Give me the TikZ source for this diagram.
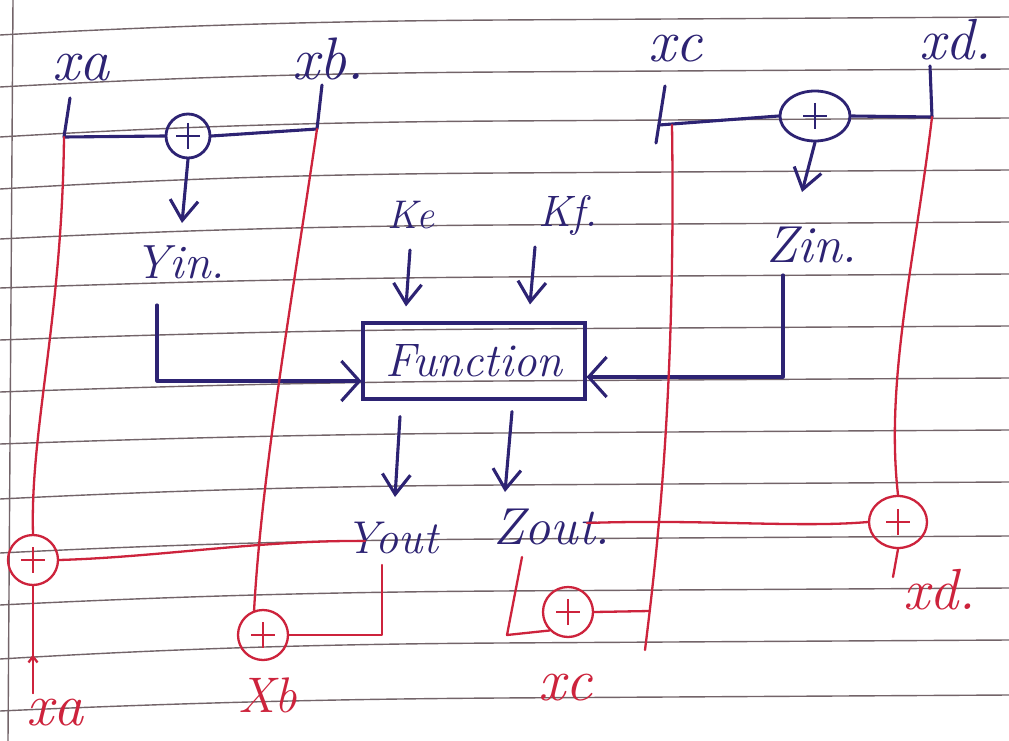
\documentclass[tikz,border=0pt]{standalone}
\usetikzlibrary{arrows.meta,shapes.geometric,calc}
\definecolor{inkb}{RGB}{45,35,115}
\definecolor{inkr}{RGB}{205,35,60}
\definecolor{paperline}{RGB}{115,100,105}
\begin{document}
\begin{tikzpicture}[x=1pt,y=-1pt,
  paper/.style={draw=paperline,line width=1.4pt},
  bline/.style={draw=inkb,line width=3.1pt,line cap=round,line join=round},
  rline/.style={draw=inkr,line width=2.3pt,line cap=round,line join=round},
  barrow/.style={bline,-{Straight Barb[length=20pt,width=28pt]}},
  bigtip/.style={-{Straight Barb[length=18pt,width=40pt]}},
  lbl/.style={text=inkb,font=\fontsize{#1}{#1}\selectfont\itshape,inner sep=3pt},
  lbl/.default=48,
  rlbl/.style={text=inkr,font=\fontsize{#1}{#1}\selectfont\itshape,inner sep=3pt},
  rlbl/.default=58,
  plus/.style={path picture={\draw[#1,line width=2.6pt]
     ([xshift=-12pt]path picture bounding box.center) -- ([xshift=12pt]path picture bounding box.center)
     ([yshift=13pt]path picture bounding box.center) -- ([yshift=-13pt]path picture bounding box.center);}},
  sumb/.style={circle,draw=inkb,line width=2.8pt,minimum size=44pt,inner sep=0pt,plus=inkb},
  sume/.style={ellipse,draw=inkb,line width=2.8pt,minimum width=70pt,minimum height=50pt,inner sep=0pt,plus=inkb},
  rsum/.style={circle,draw=inkr,line width=2.3pt,minimum size=50pt,inner sep=0pt,plus=inkr},
  rsume/.style={ellipse,draw=inkr,line width=2.3pt,minimum width=58pt,minimum height=52pt,inner sep=0pt,plus=inkr},
  fbox/.style={draw=inkb,line width=3.1pt,minimum width=222pt,minimum height=76pt,text=inkb,
     font=\fontsize{47}{50}\selectfont\itshape}
]
\useasboundingbox (0,0) rectangle (1009,741);
\fill[white] (0,0) rectangle (1009,741);
% ruled paper
\foreach \l/\r in {35/17,87/69,137/118,189/170,239/222,288/274,340/326,392/378,444/430,499/482,553/536,605/588,659/640,711/695}{
  \draw[paper] (0,\l) .. controls (200,{\r+7}) and (350,{\r+4}) .. (500,{\r+3}) -- (1009,\r);
}
\draw[paper] (13,0) -- (8,741);

% labels
\node[lbl=60] (xa) at (81,68) {xa};
\node[lbl=60] (xb) at (328,59) {xb.};
\node[lbl=60] (xc) at (675,49) {xc};
\node[lbl=58] (xd) at (956,40) {xd.};
\node[lbl=48] (yin) at (180,262) {Yin.};
\node[lbl=40] (ke) at (411,215) {Ke};
\node[lbl=44] (kf) at (568,215) {Kf.};
\node[lbl=52] (zin) at (812,245) {Zin.};
\node[fbox] (func) at (474,361) {Function};
\node[lbl=46] (yout) at (392,538) {Yout};
\node[lbl=52] (zout) at (552,527) {Zout.};
\node[rlbl=60] (xab) at (55,713) {xa};
\node[rlbl=50] (xbb) at (268,695) {Xb};
\node[rlbl=60] (xcb) at (565,688) {xc};
\node[rlbl=58] (xdb) at (940,590) {xd.};

% summing junctions
\node[sumb] (s1) at (188,136) {};
\node[sume] (e1) at (815,116) {};
\node[rsum] (r1) at (33,560) {};
\node[rsum] (r2) at (263,635) {};
\node[rsum] (r3) at (568,612) {};
\node[rsume] (r4) at (898,522) {};

% coordinates
\coordinate (xaT) at (70,98);
\coordinate (xaB) at (64,137);
\coordinate (xbB) at (317,129);
\coordinate (xbT) at (322,85);
\coordinate (xcT) at (665,86);
\coordinate (xcL) at (656,143);
\coordinate (xcJ) at (659,125);
\coordinate (xdB) at (932,117);
\coordinate (xdT) at (930,66);
\coordinate (xcRt) at (672,125);
\coordinate (xcEnd) at (645,650);
\coordinate (xcJn) at (650,611);
\coordinate (zc) at (507,635);

% blue bars
\draw[bline] (xaT) -- (xaB) -- (s1.west);
\draw[bline] (s1.east) -- (xbB) -- (xbT);
\draw[bline] (xcT) -- (xcL);
\draw[bline] (xcJ) -- (e1.west);
\draw[bline] (e1.east) -- (xdB) -- (xdT);

% blue arrows
\draw[barrow] (s1.south) -- ([xshift=2pt,yshift=39pt]yin.center);
\draw[barrow] (e1.south) -- ([xshift=-10pt,yshift=53pt]zin.center);
\draw[bline,bigtip] ([xshift=-23pt,yshift=-43pt]yin.center) |- ([yshift=-20pt]func.west);
\draw[bline,bigtip] ([xshift=-29pt,yshift=-30pt]zin.center) |- ([yshift=-16pt]func.east);
\draw[barrow] ([xshift=-1pt,yshift=-35pt]ke.center) -- ([xshift=-68pt,yshift=15pt]func.north);
\draw[barrow] ([xshift=-33pt,yshift=-32pt]kf.center) -- ([xshift=56pt,yshift=17pt]func.north);
\draw[barrow] ([xshift=-74pt,yshift=-16pt]func.south) -- ([xshift=3pt,yshift=41pt]yout.center);
\draw[barrow] ([xshift=38pt,yshift=-11pt]func.south) -- ([xshift=-47pt,yshift=35pt]zout.center);

% red feedback
\draw[rline] (xaB) .. controls (62,320) and (30,430) .. (r1.north);
\draw[rline] (r1.east) .. controls (160,557) and (260,540) .. ([xshift=-27pt,yshift=-3pt]yout.center);
\draw[rline] ([xshift=-22pt,yshift=20pt]xab.center) -- (r1.south);
\draw[rline,-{Straight Barb[length=6pt,width=9pt]}] ([xshift=-22pt,yshift=20pt]xab.center) -- ($([xshift=-22pt,yshift=20pt]xab.center)!0.36!(r1.south)$);
\draw[rline] (xbB) .. controls (292,300) and (262,470) .. (r2.110);
\draw[rline] ([xshift=-10pt,yshift=-27pt]yout.center) |- (r2.east);
\draw[rline] (xcRt) .. controls (676,400) and (656,560) .. (xcEnd);
\draw[rline] (r3.east) -- (xcJn);
\draw[rline] ([xshift=-30pt,yshift=-30pt]zout.center) -- (zc) -- (r3.south west);
\draw[rline] ([xshift=35pt,yshift=4pt]zout.center) .. controls (700,519) and (800,528) .. (r4.west);
\draw[rline] (xdB) .. controls (915,260) and (885,380) .. (r4.north);
\draw[rline] (r4.south) -- ([xshift=-47pt,yshift=13pt]xdb.center);
\end{tikzpicture}
\end{document}
